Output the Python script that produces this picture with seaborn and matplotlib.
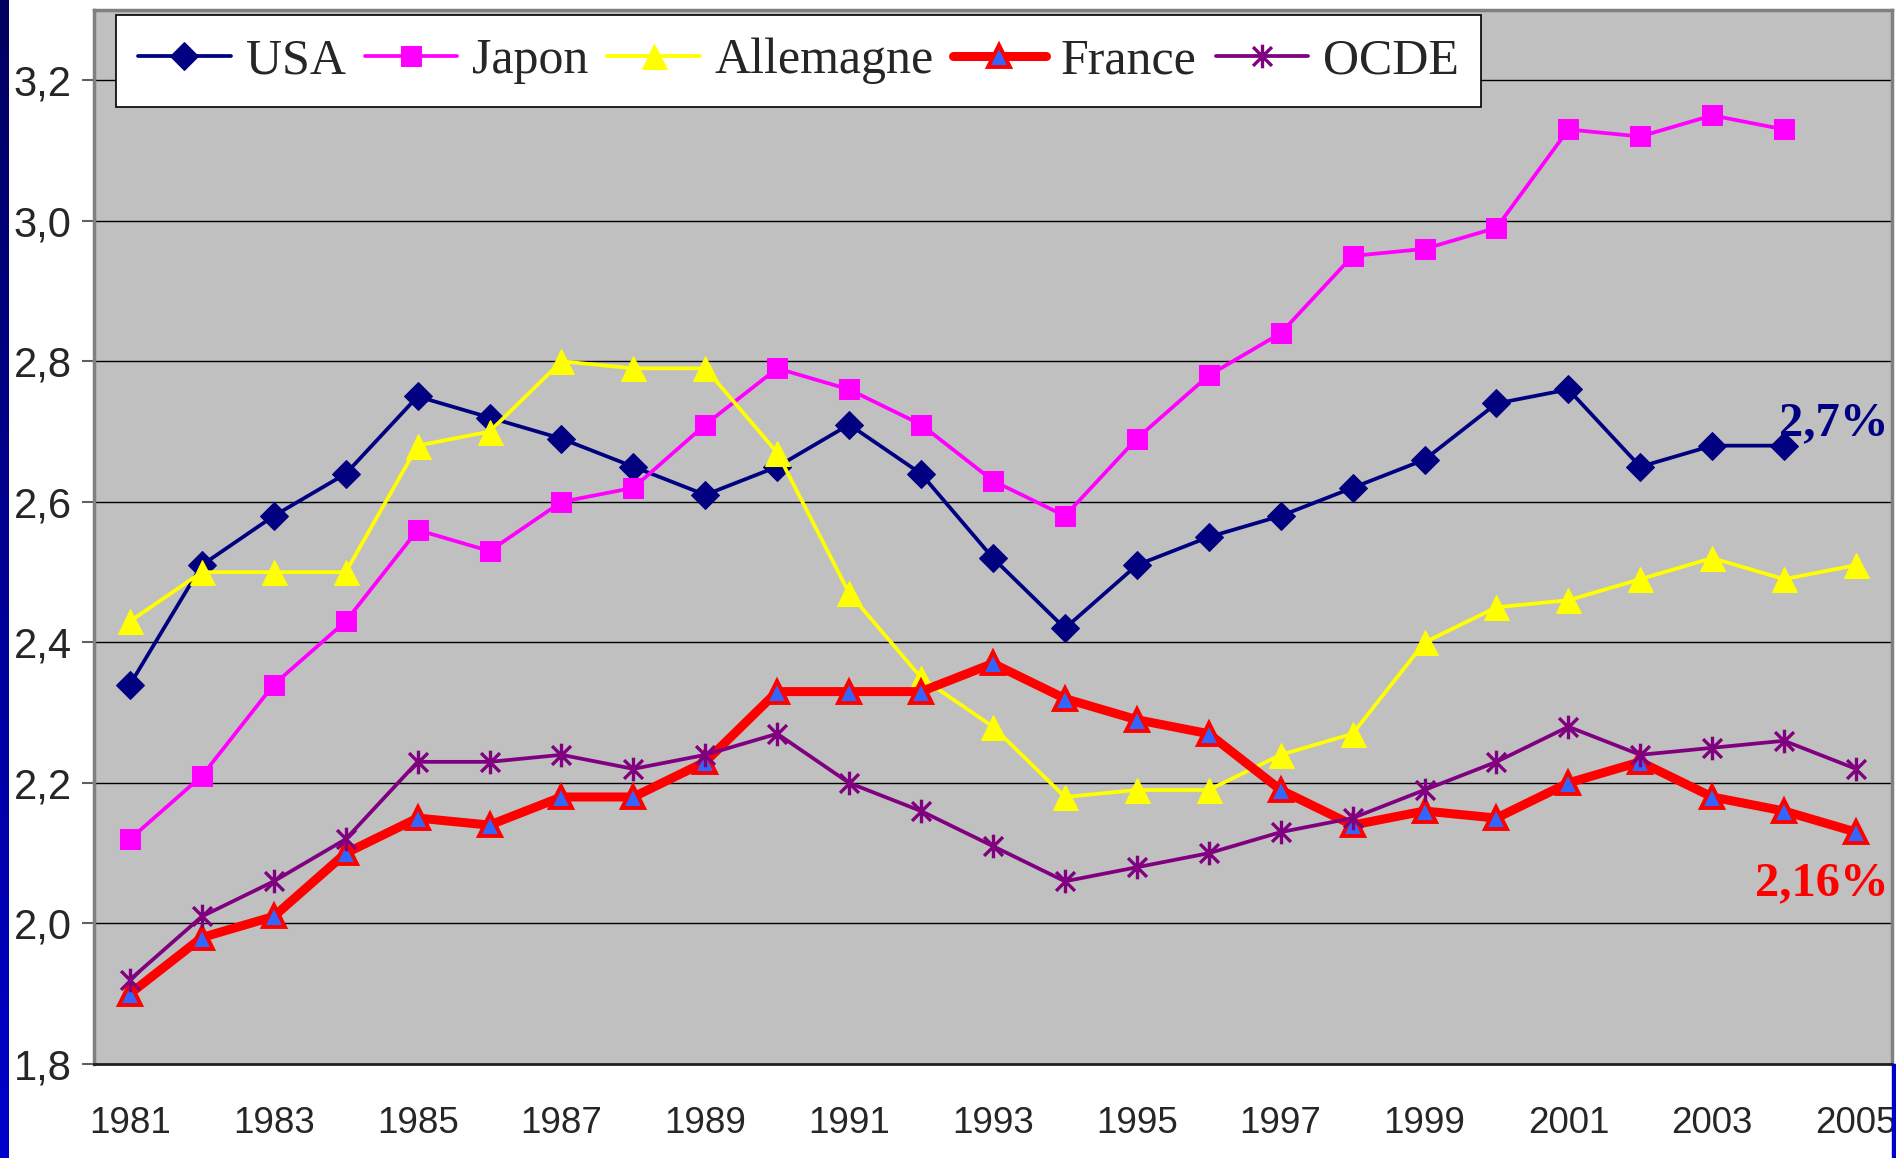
import matplotlib
matplotlib.use("Agg")
import matplotlib.pyplot as plt
from matplotlib.path import Path
import numpy as np
import pandas as pd
import seaborn as sns

# R&D spending as % of GDP, 1981-2005
years = list(range(1981, 2006))
usa = [2.34, 2.51, 2.58, 2.64, 2.75, 2.72, 2.69, 2.65, 2.61, 2.65, 2.71, 2.64, 2.52,
       2.42, 2.51, 2.55, 2.58, 2.62, 2.66, 2.74, 2.76, 2.65, 2.68, 2.68, np.nan]
japon = [2.12, 2.21, 2.34, 2.43, 2.56, 2.53, 2.60, 2.62, 2.71, 2.79, 2.76, 2.71, 2.63,
         2.58, 2.69, 2.78, 2.84, 2.95, 2.96, 2.99, 3.13, 3.12, 3.15, 3.13, np.nan]
allemagne = [2.43, 2.50, 2.50, 2.50, 2.68, 2.70, 2.80, 2.79, 2.79, 2.67, 2.47, 2.35, 2.28,
             2.18, 2.19, 2.19, 2.24, 2.27, 2.40, 2.45, 2.46, 2.49, 2.52, 2.49, 2.51]
france = [1.90, 1.98, 2.01, 2.10, 2.15, 2.14, 2.18, 2.18, 2.23, 2.33, 2.33, 2.33, 2.37,
          2.32, 2.29, 2.27, 2.19, 2.14, 2.16, 2.15, 2.20, 2.23, 2.18, 2.16, 2.13]
ocde = [1.92, 2.01, 2.06, 2.12, 2.23, 2.23, 2.24, 2.22, 2.24, 2.27, 2.20, 2.16, 2.11,
        2.06, 2.08, 2.10, 2.13, 2.15, 2.19, 2.23, 2.28, 2.24, 2.25, 2.26, 2.22]
year_labels = [str(y) for y in range(1981, 2006, 2)]
y_ticks = [1.8, 2.0, 2.2, 2.4, 2.6, 2.8, 3.0, 3.2]

df = pd.DataFrame({"annee": years, "USA": usa, "Japon": japon,
                   "Allemagne": allemagne, "France": france, "OCDE": ocde})

sns.set_style("white")
plt.rcParams["font.family"] = ["Liberation Sans", "DejaVu Sans"]

# Excel-style star marker: an X plus a vertical bar
star = Path([(-1, -1), (1, 1), (-1, 1), (1, -1), (0, -1.25), (0, 1.25)],
            [Path.MOVETO, Path.LINETO, Path.MOVETO, Path.LINETO, Path.MOVETO, Path.LINETO])

fig = plt.figure(figsize=(18.96, 11.58), dpi=100)
ax = fig.add_axes([94 / 1896, 1 - 1064 / 1158, (1892 - 94) / 1896, (1064 - 10) / 1158])
ax.set_facecolor("#C0C0C0")

sns.lineplot(data=df, x="annee", y="USA", ax=ax, color="#000080", lw=2.7,
             marker="D", markersize=14, markeredgecolor="#000080", label="USA")
sns.lineplot(data=df, x="annee", y="Japon", ax=ax, color="#FF00FF", lw=2.7,
             marker="s", markersize=15, markeredgecolor="#FF00FF", label="Japon")
sns.lineplot(data=df, x="annee", y="Allemagne", ax=ax, color="#FFFF00", lw=2.7,
             marker="^", markersize=18, markeredgecolor="#FFFF00", label="Allemagne")
sns.lineplot(data=df, x="annee", y="France", ax=ax, color="#FF0000", lw=6.5,
             marker="^", markersize=16, markerfacecolor="#3366FF",
             markeredgecolor="#FF0000", markeredgewidth=2.8, label="France")
sns.lineplot(data=df, x="annee", y="OCDE", ax=ax, color="#800080", lw=2.7,
             marker=star, markersize=17, markeredgecolor="#800080",
             markeredgewidth=2.4, label="OCDE")

ax.set_xlim(1980.5, 2005.5)
ax.set_ylim(1.8, 3.3)
ax.set_xlabel("")
ax.set_ylabel("")

ax.set_yticks(y_ticks)
ax.set_yticklabels([f"{v:.1f}".replace(".", ",") for v in y_ticks])
ax.set_xticks(list(range(1981, 2006, 2)))
ax.set_xticklabels(year_labels)
ax.set_xticks(np.arange(1980.5, 2006, 1), minor=True)
ax.tick_params(axis="x", which="major", length=0, pad=30, labelsize=26.5)
ax.tick_params(axis="x", which="minor", length=9, width=1.2, color="#404040", direction="out")
ax.tick_params(axis="y", length=9, width=1.5, color="#606060", pad=7, labelsize=30, left=True)

ax.grid(axis="y", color="black", lw=1)
ax.set_axisbelow(True)
for side in ["left", "top", "right"]:
    ax.spines[side].set_color("#808080")
    ax.spines[side].set_linewidth(2.5)
ax.spines["bottom"].set_color("#202020")
ax.spines["bottom"].set_linewidth(2)

leg = ax.legend(loc="upper left", bbox_to_anchor=(0.012, 0.995), borderaxespad=0,
                ncol=5, frameon=True, fancybox=False, handlelength=1.85,
                handletextpad=0.3, columnspacing=0.38, borderpad=0.45,
                prop={"family": "Liberation Serif", "size": 36})
leg.get_frame().set_edgecolor("black")
leg.get_frame().set_linewidth(1.2)
leg.get_frame().set_facecolor("white")
leg.get_frame().set_alpha(1)

ax.text(2005.45, 2.695, "2,7%", ha="right", va="baseline", color="#000080",
        fontsize=35, fontweight="bold", family="Liberation Serif")
ax.text(2005.45, 2.04, "2,16%", ha="right", va="baseline", color="#FF0000",
        fontsize=35, fontweight="bold", family="Liberation Serif")

# blue slide border on the left and lower right corner
strip = fig.add_axes([0, 0, 9 / 1896, 1])
grad = np.linspace(0, 1, 256).reshape(-1, 1)
cmap = matplotlib.colors.LinearSegmentedColormap.from_list("b", ["#000060", "#0000CC"])
strip.imshow(grad, aspect="auto", cmap=cmap, origin="upper")
strip.axis("off")
fig.patches.append(plt.Rectangle((1892 / 1896, 0), 4 / 1896, 1 - 1064 / 1158,
                                 transform=fig.transFigure, color="#0000CC", zorder=5))

fig.savefig("out.png", dpi=100)
